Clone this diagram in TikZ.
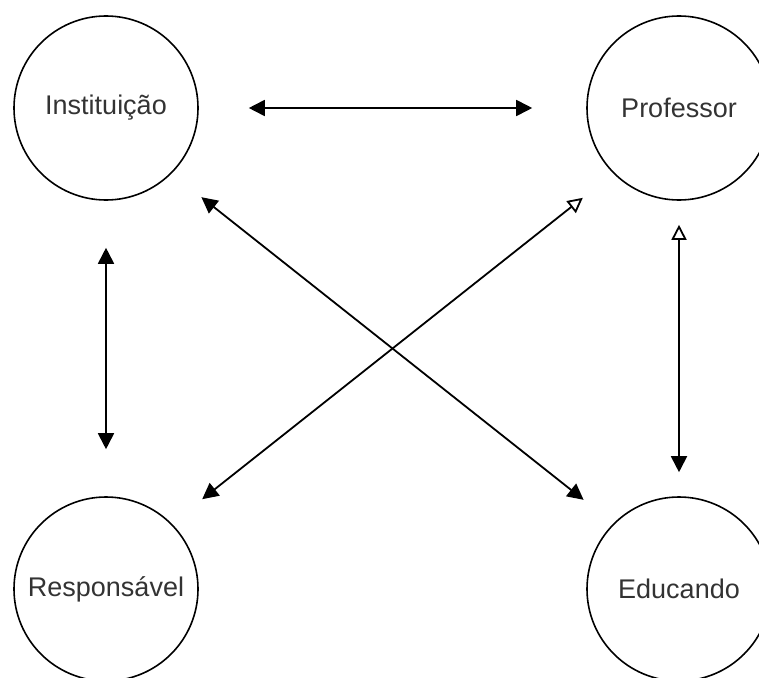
\documentclass[tikz,border=0pt]{standalone}
\usepackage{fontspec}
\setmainfont{Liberation Sans}
\usetikzlibrary{arrows.meta,positioning}

\begin{document}
\begin{tikzpicture}[x=1pt, y=-1pt,
  actor/.style={draw, circle, line width=1.6pt, minimum size=184pt, inner sep=0pt, text=black!80, font=\fontsize{27}{31}\selectfont},
  both/.style={{Triangle[length=16pt,width=16pt]}-{Triangle[length=16pt,width=16pt]}, line width=1.8pt},
  halfopen/.style={{Triangle[length=16pt,width=16pt]}-{Triangle[open,length=15pt,width=15pt]}, line width=1.8pt}]

  \useasboundingbox (0,0) rectangle (759,677);

  % Circles
  \node[actor] (inst) at (106,108) {Instituição};
  \node[actor] (prof) at (679,108) {Professor};
  \node[actor] (resp) at (106,589) {Responsável};
  \node[actor] (educ) at (679,589) {Educando};

  % Horizontal arrow
  \draw[both, shorten <=50pt, shorten >=54pt] (inst) -- (prof);

  % Vertical arrows
  \draw[both, shorten <=47pt, shorten >=47pt] (inst) -- (resp);
  \draw[halfopen, shorten <=24pt, shorten >=24pt] (educ) -- (prof);

  % Diagonal arrows
  \draw[both, shorten <=38pt, shorten >=38pt] (inst.-45) -- (educ.135);
  \draw[halfopen, shorten <=39pt, shorten >=39pt] (resp.45) -- (prof.-135);

\end{tikzpicture}
\end{document}
